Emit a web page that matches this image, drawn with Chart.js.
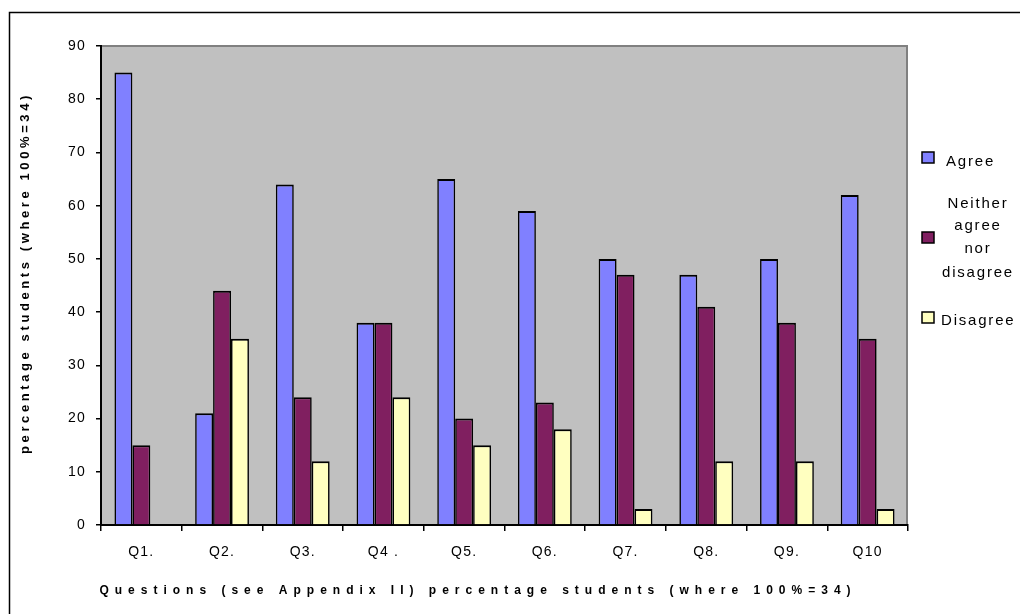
<!DOCTYPE html>
<html>
<head>
<meta charset="utf-8">
<script src="https://cdn.jsdelivr.net/npm/chart.js@4/dist/chart.umd.min.js"></script>
<style>
  html, body { margin: 0; padding: 0; background: #fff; }
  #wrap { width: 1020px; height: 614px; }
</style>
</head>
<body>
<div id="wrap"><canvas id="chart" width="1020" height="614"></canvas></div>
<script>
// Survey responses per question, percentage of students (100% = 34)
const questions = ['Q1.', 'Q2.', 'Q3.', 'Q4 .', 'Q5.', 'Q6.', 'Q7.', 'Q8.', 'Q9.', 'Q10'];
const agree    = [85, 21, 64, 38, 65, 59, 50, 47, 50, 62];
const neither  = [15, 44, 24, 38, 20, 23, 47, 41, 38, 35];
const disagree = [0, 35, 12, 24, 15, 18, 3, 12, 12, 3];
const yTicks   = [0, 10, 20, 30, 40, 50, 60, 70, 80, 90];

const seriesNames = ['Agree', ['Neither', 'agree', 'nor', 'disagree'], 'Disagree'];
const seriesColors = ['#8080FF', '#801F60', '#FFFFC0'];

const FONT = "'Liberation Sans', Arial, sans-serif";

// Grey plot area, frame around the whole chart
const framePlugin = {
  id: 'frame',
  beforeDraw(chart) {
    const { ctx, chartArea: a } = chart;
    ctx.save();
    ctx.fillStyle = '#fff';
    ctx.fillRect(0, 0, chart.width, chart.height);
    ctx.strokeStyle = '#000';
    ctx.lineWidth = 1.5;
    ctx.strokeRect(9.5, 12.5, chart.width + 20, chart.height + 20);
    ctx.fillStyle = '#C0C0C0';
    ctx.fillRect(a.left, a.top, a.right - a.left, a.bottom - a.top);
    ctx.strokeStyle = '#808080';
    ctx.lineWidth = 2;
    ctx.beginPath();
    ctx.moveTo(a.left, a.top);
    ctx.lineTo(a.right - 1, a.top);
    ctx.lineTo(a.right - 1, a.bottom);
    ctx.stroke();
    ctx.restore();
    ctx.letterSpacing = '1.2px';
  }
};

// Axis titles and the legend at the right
const textPlugin = {
  id: 'texts',
  afterDraw(chart) {
    const { ctx } = chart;
    ctx.save();
    ctx.fillStyle = '#000';
    ctx.textAlign = 'center';
    ctx.textBaseline = 'middle';

    // y axis title
    ctx.save();
    ctx.translate(25, 273);
    ctx.rotate(-Math.PI / 2);
    ctx.font = 'bold 13px ' + FONT;
    ctx.letterSpacing = '3.6px';
    ctx.fillText('percentage students (where 100%=34)', 0, 0);
    ctx.restore();

    // x axis title
    ctx.font = 'bold 12px ' + FONT;
    ctx.letterSpacing = '6px';
    ctx.fillText('Questions (see Appendix II) percentage students (where 100%=34)', 478, 591);

    // legend
    ctx.font = '15px ' + FONT;
    ctx.letterSpacing = '1.8px';
    ctx.textBaseline = 'alphabetic';
    const boxY = [152, 232, 312];
    const boxX = 922;
    seriesNames.forEach((name, i) => {
      ctx.fillStyle = seriesColors[i];
      ctx.fillRect(boxX, boxY[i], 12, 11);
      ctx.strokeStyle = '#000';
      ctx.lineWidth = 1.5;
      ctx.strokeRect(boxX, boxY[i], 12, 11);
      ctx.fillStyle = '#000';
      if (Array.isArray(name)) {
        const base = [208, 230, 253, 277];
        name.forEach((line, j) => {
          ctx.textAlign = 'center';
          ctx.fillText(line, 978, base[j]);
        });
      } else {
        ctx.textAlign = 'left';
        ctx.fillText(name, i === 0 ? 946 : 941, i === 0 ? 166 : 325);
      }
    });
    ctx.restore();
  }
};

const datasets = [agree, neither, disagree].map((values, i) => ({
  label: Array.isArray(seriesNames[i]) ? seriesNames[i].join(' ') : seriesNames[i],
  data: values,
  backgroundColor: seriesColors[i],
  borderColor: '#000',
  borderWidth: { top: 2, left: 1.6, right: 1.6, bottom: 0 },
  borderSkipped: 'start',
  barPercentage: 1,
  categoryPercentage: 3 / 4.5
}));

new Chart(document.getElementById('chart'), {
  type: 'bar',
  data: { labels: questions, datasets },
  options: {
    responsive: false,
    animation: false,
    devicePixelRatio: 1,
    layout: { padding: { left: 0, top: 46, right: 112, bottom: 0 } },
    plugins: { legend: { display: false }, tooltip: { enabled: false } },
    scales: {
      x: {
        offset: true,
        grid: { display: true, drawOnChartArea: false, drawTicks: true, tickLength: 6, color: '#000', lineWidth: 1.5, offset: true },
        border: { color: '#000', width: 2 },
        ticks: { color: '#000', font: { family: FONT, size: 14 }, padding: 13, maxRotation: 0 },
        afterFit(s) { s.height = 89; }
      },
      y: {
        min: yTicks[0],
        max: yTicks[yTicks.length - 1],
        afterBuildTicks(s) { s.ticks = yTicks.map(v => ({ value: v })); },
        grid: { display: true, drawOnChartArea: false, drawTicks: true, tickLength: 5, color: '#000', lineWidth: 1.5 },
        border: { color: '#000', width: 2 },
        ticks: { color: '#000', font: { family: FONT, size: 14 }, padding: 10 },
        afterFit(s) { s.width = 101; }
      }
    }
  },
  plugins: [framePlugin, textPlugin]
});
</script>
</body>
</html>
